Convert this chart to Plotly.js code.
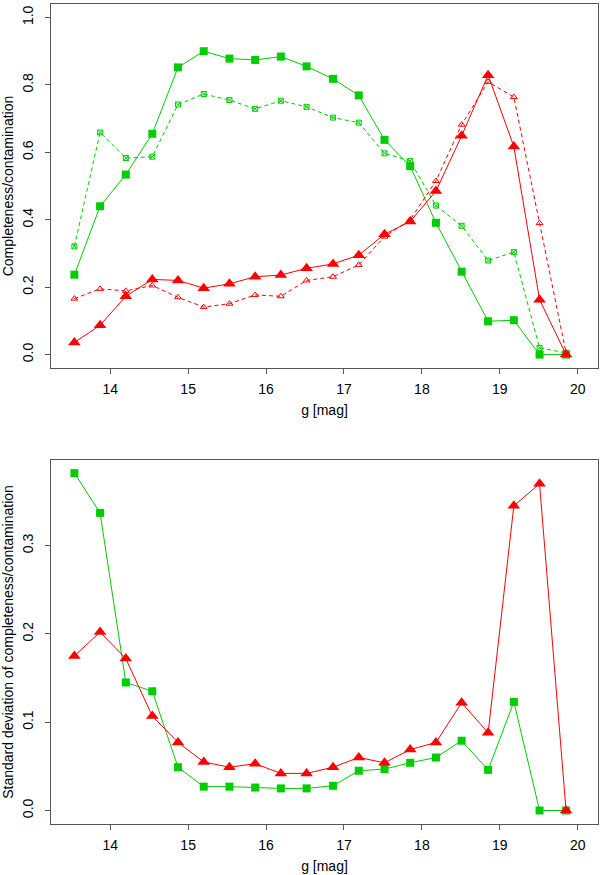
<!DOCTYPE html>
<html>
<head>
<meta charset="utf-8">
<script src="https://cdn.plot.ly/plotly-3.0.1.min.js"></script>
<style>
  body { margin: 0; padding: 0; background: #fff; }
  #plot { width: 600px; height: 875px; }
</style>
</head>
<body>
<div id="plot"></div>
<script>
/* completeness / contamination vs g magnitude */
var gmag = [13.54, 13.87, 14.20, 14.54, 14.87, 15.20, 15.53, 15.86, 16.19, 16.52,
            16.86, 17.19, 17.52, 17.85, 18.18, 18.51, 18.85, 19.18, 19.51, 19.85];

// top panel
var complA = [0.237, 0.440, 0.534, 0.655, 0.852, 0.900, 0.878, 0.874, 0.884, 0.855,
              0.818, 0.769, 0.637, 0.559, 0.391, 0.246, 0.099, 0.102, 0.000, 0.000];
var complB = [0.321, 0.659, 0.583, 0.587, 0.742, 0.773, 0.755, 0.729, 0.753, 0.735,
              0.703, 0.688, 0.597, 0.574, 0.442, 0.382, 0.279, 0.304, 0.020, 0.005];
var contA  = [0.036, 0.087, 0.173, 0.223, 0.220, 0.197, 0.210, 0.231, 0.236, 0.256,
              0.269, 0.295, 0.357, 0.395, 0.485, 0.649, 0.829, 0.617, 0.163, 0.000];
var contB  = [0.166, 0.195, 0.189, 0.205, 0.170, 0.141, 0.151, 0.177, 0.173, 0.220,
              0.231, 0.266, 0.350, 0.400, 0.515, 0.682, 0.809, 0.764, 0.390, 0.005];

// bottom panel (standard deviations)
var sdCompl = [0.382, 0.337, 0.145, 0.135, 0.049, 0.027, 0.027, 0.026, 0.025, 0.025,
               0.028, 0.045, 0.047, 0.054, 0.060, 0.079, 0.046, 0.123, 0.000, 0.000];
var sdCont  = [0.175, 0.202, 0.172, 0.107, 0.077, 0.055, 0.049, 0.053, 0.042, 0.042,
               0.049, 0.060, 0.054, 0.069, 0.077, 0.122, 0.088, 0.345, 0.370, 0.000];

var green = '#00CD00';
var red = '#FF0000';

var traces = [
  {x: gmag, y: complA, xaxis: 'x', yaxis: 'y', mode: 'lines+markers', type: 'scatter',
   line: {color: green, width: 1}, marker: {symbol: 'square', size: 8, color: green}},
  {x: gmag, y: complB, xaxis: 'x', yaxis: 'y', mode: 'lines+markers', type: 'scatter',
   line: {color: green, width: 1, dash: '4px,3px'},
   marker: {symbol: 'square-x-open', size: 5, color: green, line: {width: 1, color: green}}},
  {x: gmag, y: contA, xaxis: 'x', yaxis: 'y', mode: 'lines+markers', type: 'scatter',
   line: {color: red, width: 1}, marker: {symbol: 'triangle-up', size: 11, color: red}},
  {x: gmag, y: contB, xaxis: 'x', yaxis: 'y', mode: 'lines+markers', type: 'scatter',
   line: {color: red, width: 1, dash: '4px,3px'},
   marker: {symbol: 'triangle-up-open', size: 6, color: red, line: {width: 1, color: red}}},
  {x: gmag, y: sdCompl, xaxis: 'x2', yaxis: 'y2', mode: 'lines+markers', type: 'scatter',
   line: {color: green, width: 1}, marker: {symbol: 'square', size: 8, color: green}},
  {x: gmag, y: sdCont, xaxis: 'x2', yaxis: 'y2', mode: 'lines+markers', type: 'scatter',
   line: {color: red, width: 1}, marker: {symbol: 'triangle-up', size: 11, color: red}}
];

var font = {family: 'Liberation Sans, Arial, Helvetica, sans-serif', size: 14, color: '#000'};

function xAxis(anchor) {
  return {
    anchor: anchor, range: [13.24, 20.26], tick0: 14, dtick: 1,
    ticks: 'outside', ticklen: 5, tickcolor: '#555', ticklabelstandoff: 3,
    showline: true, mirror: true, linecolor: '#555', linewidth: 1,
    showgrid: false, zeroline: false,
    title: {text: 'g [mag]', font: {size: 14}, standoff: 9}
  };
}

function yAxis(domain, range, step, label) {
  return {
    domain: domain, range: range, tick0: 0, dtick: step, tickformat: '.1f',
    tickangle: -90, ticks: 'outside', ticklen: 5, tickcolor: '#555', ticklabelstandoff: 6,
    showline: true, mirror: true, linecolor: '#555', linewidth: 1,
    showgrid: false, zeroline: false,
    title: {text: label, font: {size: 14}, standoff: 4}
  };
}

var layout = {
  width: 600, height: 875,
  margin: {l: 51, r: 2, t: 4, b: 51},
  font: font,
  showlegend: false,
  paper_bgcolor: '#fff', plot_bgcolor: '#fff',
  xaxis: xAxis('y'),
  xaxis2: xAxis('y2'),
  yaxis: yAxis([0.556, 1], [-0.04, 1.04], 0.2, 'Completeness/contamination'),
  yaxis2: yAxis([0, 0.444], [-0.0153, 0.397], 0.1, 'Standard deviation of completeness/contamination')
};

Plotly.newPlot('plot', traces, layout, {displayModeBar: false, staticPlot: true});
</script>
</body>
</html>
